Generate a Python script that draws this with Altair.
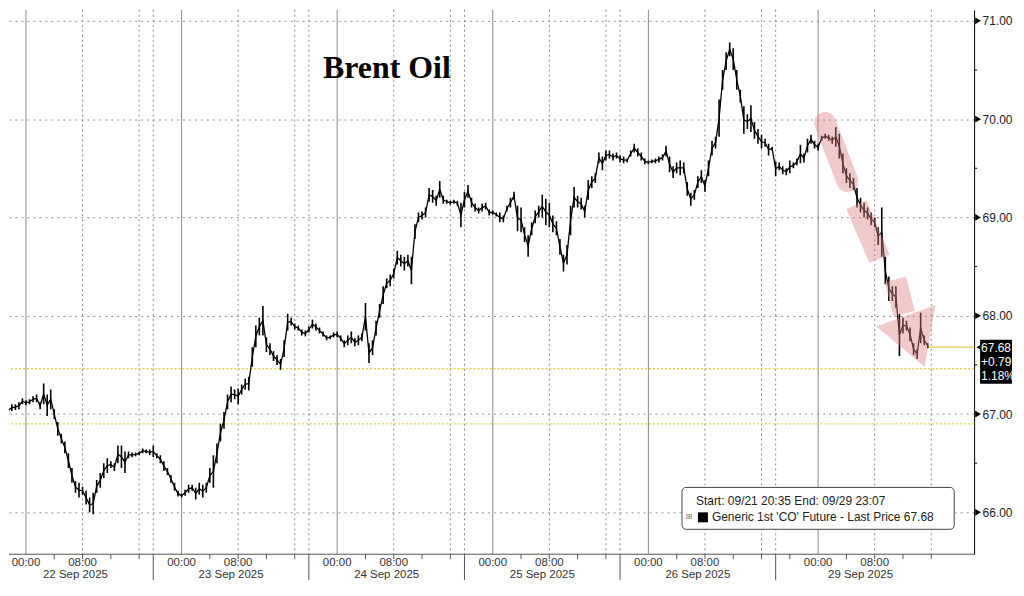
import altair as alt
import pandas as pd

# ---------------- data ----------------
# trading-time axis: hours, 0 = 22 Sep 00:00, session gaps removed
T_START = -3.5
STEP = 0.5
LOW = [
    66.88, 66.92, 67.00, 67.03, 67.04, 67.05, 67.10, 67.09, 67.10, 67.12,
    67.12, 67.05, 67.10, 66.98, 67.05, 66.95, 66.78, 66.70, 66.60, 66.45,
    66.30, 66.20, 66.15, 66.18, 66.08, 66.00, 65.98, 66.20, 66.25, 66.35,
    66.40, 66.45, 66.42, 66.50, 66.45, 66.40, 66.55, 66.56, 66.57, 66.58,
    66.60, 66.60, 66.58, 66.56, 66.55, 66.50, 66.42, 66.38, 66.30, 66.22,
    66.16, 66.15, 66.17, 66.20, 66.22, 66.13, 66.18, 66.15, 66.20, 66.30,
    66.25, 66.50, 66.72, 66.85, 67.05, 67.12, 67.15, 67.10, 67.20, 67.25,
    67.24, 67.48, 67.68, 67.80, 67.80, 67.63, 67.60, 67.54, 67.50, 67.45,
    67.58, 67.85, 67.90, 67.86, 67.85, 67.80, 67.79, 67.83, 67.87, 67.85,
    67.82, 67.79, 67.75, 67.76, 67.78, 67.78, 67.74, 67.68, 67.70, 67.72,
    67.69, 67.70, 67.74, 67.85, 67.52, 67.60, 67.80, 67.98, 68.12, 68.28,
    68.30, 68.38, 68.52, 68.50, 68.46, 68.50, 68.32, 68.78, 68.95, 68.98,
    69.00, 69.16, 69.15, 69.12, 69.20, 69.14, 69.14, 69.13, 69.14, 69.12,
    68.90, 69.10, 69.20, 69.10, 69.06, 69.04, 69.06, 69.08, 69.02, 69.03,
    69.01, 68.95, 68.95, 69.06, 69.10, 69.18, 68.86, 68.85, 68.75, 68.60,
    68.82, 68.94, 69.00, 69.00, 68.92, 68.90, 68.85, 68.82, 68.62, 68.45,
    68.52, 68.82, 69.10, 69.10, 69.08, 69.00, 69.18, 69.30, 69.35, 69.55,
    69.48, 69.58, 69.60, 69.58, 69.60, 69.56, 69.55, 69.56, 69.62, 69.66,
    69.62, 69.58, 69.54, 69.54, 69.55, 69.55, 69.56, 69.58, 69.62, 69.46,
    69.40, 69.45, 69.43, 69.45, 69.22, 69.12, 69.18, 69.30, 69.35, 69.26,
    69.42, 69.63, 69.70, 69.82, 70.30, 70.50, 70.64, 70.50, 70.30, 70.17,
    69.85, 69.90, 69.87, 69.80, 69.75, 69.70, 69.72, 69.63, 69.68, 69.42,
    69.48, 69.44, 69.43, 69.45, 69.50, 69.53, 69.55, 69.56, 69.66, 69.75,
    69.70, 69.68, 69.78, 69.80, 69.78, 69.75, 69.72, 69.60, 69.45, 69.35,
    69.30, 69.28, 69.10, 69.05, 69.00, 68.98, 68.92, 68.90, 68.72, 68.60,
    68.32, 68.15, 68.15, 68.08, 67.59, 67.82, 67.85, 67.74, 67.60, 67.56,
    67.72, 67.70, 67.67,
]
HIGH = [
    66.95, 67.02, 67.08, 67.10, 67.10, 67.12, 67.16, 67.14, 67.15, 67.18,
    67.20, 67.12, 67.31, 67.20, 67.25, 67.05, 66.92, 66.80, 66.72, 66.60,
    66.45, 66.32, 66.30, 66.26, 66.22, 66.15, 66.20, 66.33, 66.40, 66.50,
    66.55, 66.52, 66.50, 66.68, 66.68, 66.62, 66.62, 66.61, 66.61, 66.62,
    66.65, 66.64, 66.64, 66.68, 66.60, 66.58, 66.52, 66.45, 66.38, 66.30,
    66.22, 66.19, 66.23, 66.28, 66.28, 66.25, 66.30, 66.28, 66.30, 66.45,
    66.58, 66.70, 66.90, 67.02, 67.20, 67.28, 67.25, 67.26, 67.30, 67.36,
    67.38, 67.68, 67.90, 67.98, 68.10, 67.78, 67.72, 67.64, 67.60, 67.56,
    67.75, 68.02, 67.98, 67.92, 67.90, 67.86, 67.85, 67.89, 67.96, 67.92,
    67.88, 67.84, 67.80, 67.80, 67.83, 67.84, 67.80, 67.75, 67.80, 67.84,
    67.77, 67.80, 67.82, 68.13, 67.72, 67.75, 67.95, 68.12, 68.30, 68.38,
    68.42, 68.48, 68.66, 68.62, 68.60, 68.62, 68.60, 68.93, 69.05, 69.06,
    69.10, 69.30, 69.28, 69.22, 69.37, 69.22, 69.18, 69.17, 69.18, 69.17,
    69.15, 69.26, 69.33, 69.20, 69.14, 69.10, 69.14, 69.15, 69.08, 69.07,
    69.05, 69.05, 69.02, 69.12, 69.20, 69.26, 69.12, 69.10, 68.90, 68.82,
    68.95, 69.07, 69.12, 69.23, 69.19, 69.15, 69.02, 68.96, 68.78, 68.62,
    68.72, 69.12, 69.31, 69.22, 69.20, 69.12, 69.38, 69.42, 69.45, 69.66,
    69.62, 69.68, 69.68, 69.65, 69.66, 69.63, 69.62, 69.60, 69.68, 69.75,
    69.70, 69.66, 69.60, 69.58, 69.59, 69.60, 69.62, 69.64, 69.73, 69.62,
    69.52, 69.56, 69.58, 69.56, 69.36, 69.25, 69.28, 69.42, 69.48, 69.38,
    69.58, 69.78, 69.82, 70.20, 70.50, 70.68, 70.78, 70.72, 70.50, 70.30,
    70.13, 70.05, 70.14, 69.97, 69.90, 69.84, 69.80, 69.75, 69.72, 69.57,
    69.56, 69.52, 69.50, 69.58, 69.56, 69.60, 69.74, 69.65, 69.80, 69.84,
    69.78, 69.75, 69.83, 69.85, 69.84, 69.82, 69.92, 69.85, 69.65, 69.50,
    69.45, 69.40, 69.30, 69.20, 69.15, 69.10, 69.05, 69.00, 68.90, 69.10,
    68.60, 68.40, 68.30, 68.30, 68.02, 67.98, 67.95, 67.88, 67.72, 67.66,
    68.03, 67.80, 67.72,
]

DAY_MIDNIGHT = [0, 22, 44, 66, 88, 112]
DAY_CENTER = [7, 29, 51, 73, 95, 118]
DAY_LABELS = ["22 Sep 2025", "23 Sep 2025", "24 Sep 2025",
              "25 Sep 2025", "26 Sep 2025", "29 Sep 2025"]
SESSION_BREAKS = [18, 40, 62, 84, 106]
Y_TICKS = [66, 67, 68, 69, 70, 71]
Y_MINOR = [66.5, 67.5, 68.5, 69.5, 70.5]
PREV_CLOSE = 66.90
REF_LEVEL = 67.46
LAST_PRICE = 67.68
LAST_T = 127.5
CHANGE = "+0.79"
CHANGE_PCT = "1.18%"
LEGEND_1 = "Start: 09/21 20:35 End: 09/29 23:07"
LEGEND_2 = "Generic 1st 'CO' Future - Last Price 67.68"
TITLE = "Brent Oil"

# highlight arrows along the Monday slide (time, price)
ARROW_BANDS = [
    ("b1", 113.0, 69.96), ("b1", 116.15, 69.37),
]
ARROW_BANDS2 = [
    ("b2", 117.42, 69.13), ("b2", 120.67, 68.58),
    ("b3", 122.92, 68.37), ("b3", 124.19, 68.02),
]
ARROW_HEAD = (125.74, 67.74)

# ---------------- layout ----------------
W, H = 968, 546
X_DOM = [-2.40, 134.06]
Y_DOM = [65.574, 71.1116]
FONT = "Liberation Sans"
PINK = "#dc7f80"

xs = alt.Scale(domain=X_DOM, nice=False, zero=False)
ys = alt.Scale(domain=Y_DOM, nice=False, zero=False)
yaxis = alt.Axis(orient="right", values=Y_TICKS, format=".2f", title=None,
                 tickSize=0, labelPadding=8, labelFont=FONT, labelFontSize=12,
                 labelColor="#222", domainColor="#000", domainWidth=1,
                 grid=True, gridDash=[2, 4], gridColor="#8f8f8f", gridWidth=1)


def X(f):
    return alt.X(f, type="quantitative", scale=xs, axis=None)


def Y(f):
    return alt.Y(f, type="quantitative", scale=ys, axis=yaxis)


ts = [T_START + STEP * i for i in range(len(LOW))]
df = pd.DataFrame({"t": ts, "lo": LOW, "hi": HIGH})
df["mid"] = (df["lo"] + df["hi"]) / 2

one = pd.DataFrame({"a": [0]})

hour_ticks = []
for d in DAY_MIDNIGHT:
    hour_ticks += [d + 4, d + 8, d + 12, d + 16]
hour_ticks.append(108)
dotted = []
for d in DAY_MIDNIGHT:
    dotted += [d + 8, d + 16]
dotted += SESSION_BREAKS

hour_lab = pd.DataFrame({
    "t": [d + h for d in DAY_MIDNIGHT for h in (0, 8)],
    "lab": ["00:00", "08:00"] * len(DAY_MIDNIGHT),
})
day_lab = pd.DataFrame({"t": DAY_CENTER, "lab": DAY_LABELS})

grid_solid = alt.Chart(pd.DataFrame({"t": DAY_MIDNIGHT})).mark_rule(
    color="#8a8a8a", strokeWidth=1).encode(x=X("t"))
grid_dot = alt.Chart(pd.DataFrame({"t": dotted})).mark_rule(
    color="#8a8a8a", strokeWidth=1, strokeDash=[2, 3]).encode(x=X("t"))

levels = alt.Chart(pd.DataFrame({"v": [PREV_CLOSE, REF_LEVEL]})).mark_rule(
    color="#e3cf4a", strokeWidth=1.5, strokeDash=[2, 2]).encode(y=Y("v"))
last_line = alt.Chart(pd.DataFrame({"t0": [LAST_T], "t1": [X_DOM[1]], "v": [LAST_PRICE]})).mark_rule(
    color="#e3cf4a", strokeWidth=1.3).encode(x=X("t0"), x2="t1", y=Y("v"))

price_line = alt.Chart(df).mark_line(color="#000", strokeWidth=1.3, clip=True).encode(
    x=X("t"), y=Y("mid"))
bars = alt.Chart(df).mark_rule(color="#000", strokeWidth=1.6, clip=True).encode(
    x=X("t"), y=Y("lo"), y2="hi")

band1 = alt.Chart(pd.DataFrame(ARROW_BANDS, columns=["g", "t", "p"])).mark_line(
    color=PINK, strokeWidth=22, opacity=0.42, strokeCap="round").encode(
    x=X("t"), y=Y("p"), detail="g")
band2 = alt.Chart(pd.DataFrame(ARROW_BANDS2, columns=["g", "t", "p"])).mark_line(
    color=PINK, strokeWidth=22, opacity=0.42, strokeCap="butt").encode(
    x=X("t"), y=Y("p"), detail="g")
head = alt.Chart(pd.DataFrame({"t": [ARROW_HEAD[0]], "p": [ARROW_HEAD[1]]})).mark_point(
    shape="triangle-down", size=3969, filled=True, color=PINK, opacity=0.42,
    strokeWidth=0, angle=340).encode(x=X("t"), y=Y("p"))

title = alt.Chart(one).mark_text(
    font="Liberation Serif", fontWeight="bold", fontSize=32, color="#000",
    align="center", baseline="alphabetic").encode(
    x=alt.value(379), y=alt.value(68), text=alt.value(TITLE))

leg_box = alt.Chart(one).mark_rect(fill="white", stroke="#444", strokeWidth=1,
                                   cornerRadius=4).encode(
    x=alt.value(675), x2=alt.value(948), y=alt.value(479), y2=alt.value(521))
leg_t1 = alt.Chart(one).mark_text(font=FONT, fontSize=12, color="#222", align="left",
                                  baseline="middle").encode(
    x=alt.value(689), y=alt.value(493), text=alt.value(LEGEND_1))
leg_t2 = alt.Chart(one).mark_text(font=FONT, fontSize=12, color="#222", align="left",
                                  baseline="middle").encode(
    x=alt.value(705), y=alt.value(509), text=alt.value(LEGEND_2))
leg_sq = alt.Chart(one).mark_rect(fill="#000").encode(
    x=alt.value(691), x2=alt.value(701), y=alt.value(504), y2=alt.value(514))
leg_plus = alt.Chart(one).mark_text(font="DejaVu Sans", fontSize=8, color="#777",
                                    align="center", baseline="middle").encode(
    x=alt.value(682), y=alt.value(509), text=alt.value("⊞"))

x_line = alt.Chart(one).mark_rule(color="#555", strokeWidth=1).encode(y=alt.value(H))
x_ticks = alt.Chart(pd.DataFrame({"t": hour_ticks})).mark_rule(color="#555").encode(
    x=X("t"), y=alt.value(H), y2=alt.value(H + 5))
x_seps = alt.Chart(pd.DataFrame({"t": SESSION_BREAKS})).mark_rule(color="#555").encode(
    x=X("t"), y=alt.value(H), y2=alt.value(H + 26))
x_hours = alt.Chart(hour_lab).mark_text(font=FONT, fontSize=11.5, color="#333",
                                        baseline="middle").encode(
    x=X("t"), y=alt.value(H + 9), text="lab")
x_days = alt.Chart(day_lab).mark_text(font=FONT, fontSize=11.5, color="#333",
                                      baseline="middle").encode(
    x=X("t"), y=alt.value(H + 21), text="lab")

y_marks = alt.Chart(pd.DataFrame({"v": Y_TICKS})).mark_point(
    shape="triangle-right", filled=True, size=45, color="#000", opacity=1).encode(
    x=alt.value(W + 4), y=Y("v"))
y_minor = alt.Chart(pd.DataFrame({"v": Y_MINOR})).mark_rule(color="#000").encode(
    x=alt.value(W), x2=alt.value(W + 3), y=Y("v"))

pb = pd.DataFrame({"v": [LAST_PRICE]})
price_box = alt.Chart(pb).mark_rect(fill="#000").encode(
    x=alt.value(W + 6), x2=alt.value(W + 38), y=alt.value(331), y2=alt.value(375))
price_notch = alt.Chart(pb).mark_point(shape="triangle-left", filled=True, size=40,
                                       color="#000", opacity=1).encode(
    x=alt.value(W + 5), y=Y("v"))
box_lines = pd.DataFrame({"lab": [f"{LAST_PRICE:.2f}", CHANGE, CHANGE_PCT],
                          "yy": [339, 353, 367]})
price_txt = alt.Chart(box_lines).mark_text(font=FONT, fontSize=12, color="#fff",
                                           align="left", baseline="middle").encode(
    x=alt.value(W + 7), y=alt.Y("yy:Q", scale=None), text="lab")

chart = alt.layer(
    grid_solid, grid_dot, levels, last_line, bars, price_line, band1, band2, head,
    title, leg_box, leg_t1, leg_t2, leg_sq, leg_plus,
    x_line, x_ticks, x_seps, x_hours, x_days, y_marks, y_minor,
    price_box, price_notch, price_txt,
).properties(
    width=W, height=H,
    padding=0,
    background="white",
).configure_view(strokeWidth=0)

chart.save("out.html", embed_options={"renderer": "svg", "actions": False})
